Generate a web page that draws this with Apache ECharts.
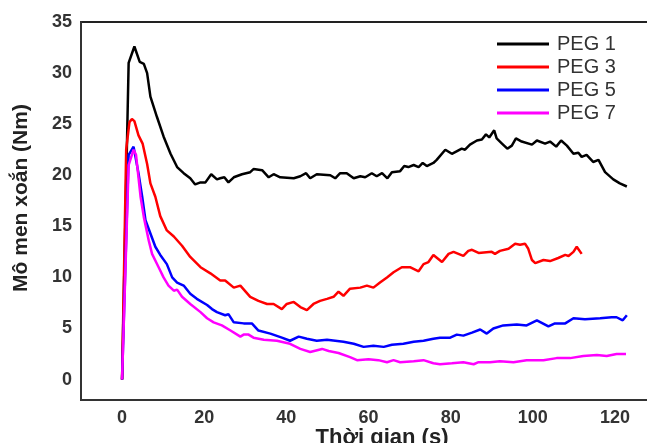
<!DOCTYPE html>
<html>
<head>
<meta charset="utf-8">
<script src="https://cdn.jsdelivr.net/npm/echarts@6/dist/echarts.min.js"></script>
<style>
html,body{margin:0;padding:0;background:#fff;}
#c{width:647px;height:443px;}
</style>
</head>
<body>
<div id="c"></div>
<script>
const seriesNames = ["PEG 1", "PEG 3", "PEG 5", "PEG 7"];
const xTickLabels = [0, 20, 40, 60, 80, 100, 120];
const yTickLabels = [0, 5, 10, 15, 20, 25, 30, 35];

const peg1 = [[0,0],[1.6,31.0],[3.0,32.6],[4.3,31.1],[5.3,30.9],[6.1,30.0],[6.9,27.7],[8.5,25.7],[10.1,23.8],[11.8,22.1],[13.4,20.8],[15.0,20.2],[16.6,19.7],[17.8,19.1],[19.1,19.3],[20.3,19.3],[21.7,20.1],[23.1,19.6],[23.9,19.7],[24.9,19.8],[25.9,19.3],[27.2,19.8],[29.2,20.1],[31.2,20.3],[32.0,20.6],[34.1,20.5],[35.7,19.8],[36.9,20.1],[38.5,19.8],[41.8,19.7],[43.4,19.9],[44.8,20.2],[45.8,19.7],[47.4,20.1],[50.7,20.0],[51.9,19.7],[53.1,20.2],[54.7,20.2],[56.4,19.7],[58.0,19.9],[59.2,19.8],[60.8,20.2],[62.0,19.9],[63.3,20.2],[64.6,19.7],[65.7,20.3],[67.7,20.4],[68.7,20.9],[69.7,20.8],[71.0,21.0],[72.2,20.8],[73.2,21.2],[74.2,20.9],[75.8,21.2],[76.6,21.5],[78.7,22.5],[80.3,22.1],[82.7,22.6],[83.5,22.5],[84.7,23.0],[86.4,23.4],[87.6,23.5],[88.6,24.0],[89.4,23.7],[90.6,24.4],[91.2,23.6],[92.5,23.1],[93.8,22.6],[94.9,22.9],[95.9,23.6],[97.3,23.3],[99.8,23.0],[101.0,23.4],[103.0,23.1],[104.2,23.3],[105.7,22.8],[106.9,23.4],[108.3,22.9],[109.9,22.1],[111.1,22.2],[111.9,21.8],[113.1,22.0],[114.7,21.3],[116.0,21.5],[117.6,20.3],[119.6,19.6],[121.2,19.2],[122.9,18.9]];

const peg3 = [[0,0],[1.0,22.5],[1.8,25.2],[2.4,25.5],[3.0,25.3],[4.0,23.9],[5.0,23.1],[6.1,21.1],[6.9,19.2],[8.1,17.9],[9.3,16.0],[10.9,14.6],[12.6,14.0],[14.6,13.1],[16.6,12.0],[19.1,11.0],[21.5,10.4],[23.9,9.7],[25.1,9.7],[27.2,9.0],[28.8,9.2],[31.2,8.1],[33.2,7.7],[35.3,7.4],[36.9,7.4],[38.9,6.9],[40.1,7.4],[41.8,7.6],[43.4,7.1],[45.0,6.8],[46.6,7.4],[48.2,7.7],[49.9,7.9],[51.5,8.1],[52.7,8.6],[53.9,8.2],[55.5,8.9],[58.0,9.0],[59.6,9.2],[61.2,9.0],[62.8,9.5],[64.5,10.0],[66.1,10.5],[68.1,11.0],[70.1,11.0],[72.2,10.6],[73.4,11.3],[74.6,11.5],[75.8,12.2],[77.0,11.8],[77.9,11.5],[79.5,12.3],[80.7,12.5],[83.1,12.1],[84.3,12.6],[85.2,12.7],[86.8,12.4],[90.0,12.5],[90.8,12.3],[92.0,12.6],[94.1,12.8],[95.7,13.3],[96.9,13.2],[98.1,13.3],[98.9,12.8],[99.8,11.7],[100.6,11.4],[102.6,11.7],[104.2,11.6],[106.2,11.9],[107.9,12.2],[108.7,12.1],[109.9,12.5],[110.7,13.0],[111.9,12.3]];

const peg5 = [[0,0],[1.6,22.0],[2.8,22.8],[4.0,20.2],[4.9,17.9],[5.7,15.6],[6.9,14.3],[8.1,13.0],[9.3,12.2],[10.9,11.3],[12.2,10.0],[13.4,9.5],[15.0,9.2],[16.6,8.4],[18.2,7.9],[20.7,7.3],[21.9,6.9],[23.1,6.6],[25.1,6.3],[25.9,6.4],[27.2,5.6],[29.6,5.5],[31.6,5.5],[33.2,4.8],[36.1,4.5],[38.9,4.1],[40.9,3.8],[43.0,4.2],[45.0,4.0],[47.4,3.8],[49.9,3.9],[51.9,3.8],[53.9,3.7],[56.4,3.5],[58.8,3.2],[61.2,3.3],[63.7,3.2],[65.7,3.4],[68.5,3.5],[71.0,3.7],[73.4,3.8],[75.8,4.0],[77.4,4.1],[79.9,4.1],[81.5,4.4],[83.1,4.3],[85.2,4.6],[87.2,4.9],[88.8,4.5],[90.4,5.0],[92.8,5.3],[96.1,5.4],[98.5,5.3],[101.0,5.8],[103.8,5.2],[105.4,5.5],[107.9,5.5],[109.9,6.0],[112.7,5.9],[116.4,6.0],[119.2,6.1],[120.4,6.1],[121.9,5.8],[122.9,6.3]];

const peg7 = [[0,0],[1.6,21.0],[2.8,22.5],[3.4,22.0],[4.5,17.9],[5.3,15.9],[6.5,13.6],[7.3,12.3],[8.9,11.0],[10.1,10.0],[11.3,9.2],[12.6,8.7],[13.4,8.8],[14.6,8.1],[16.6,7.4],[19.1,6.6],[20.7,6.0],[22.3,5.6],[24.3,5.3],[26.4,4.8],[28.8,4.2],[29.6,4.4],[30.8,4.4],[32.0,4.1],[34.5,3.9],[37.7,3.8],[40.9,3.5],[43.4,3.0],[45.8,2.7],[48.7,3.0],[50.3,2.8],[52.7,2.6],[55.5,2.2],[57.2,1.9],[60.0,2.0],[62.4,1.9],[64.5,1.7],[66.1,1.9],[67.7,1.7],[71.0,1.8],[73.4,1.9],[75.8,1.6],[77.4,1.5],[80.3,1.6],[83.1,1.7],[85.6,1.5],[86.8,1.7],[89.6,1.7],[92.0,1.8],[95.3,1.7],[98.5,1.9],[102.6,1.9],[105.8,2.1],[109.1,2.1],[112.3,2.3],[115.6,2.4],[118.0,2.3],[120.4,2.5],[122.7,2.5]];

const seriesData = [peg1, peg3, peg5, peg7];
const colors = ["#000000", "#ff0000", "#0000ff", "#ff00ff"];

const chart = echarts.init(document.getElementById('c'), null, {renderer: 'canvas'});
const option = {
  animation: false,
  backgroundColor: '#ffffff',
  grid: {
    left: 81, top: 22, height: 378, width: 575,
    outerBoundsMode: 'none', containLabel: false,
    show: true, borderColor: '#222', borderWidth: 2, backgroundColor: 'transparent'
  },
  legend: {
    orient: 'vertical',
    left: 497, top: 34, padding: 0,
    icon: 'rect',
    itemWidth: 52, itemHeight: 3, itemGap: 3,
    data: seriesNames,
    textStyle: {fontFamily: 'Liberation Sans, Arial, sans-serif', fontSize: 20, color: '#333', padding: [0,0,0,3]}
  },
  xAxis: {
    type: 'value', min: -10, max: 130, interval: 10,
    axisLine: {show: true, onZero: false, lineStyle: {color: '#333', width: 2}},
    axisTick: {show: false},
    splitLine: {show: false},
    axisLabel: {
      margin: 9,
      fontFamily: 'Liberation Sans, Arial, sans-serif', fontSize: 18, fontWeight: 'bold', color: '#333',
      formatter: v => xTickLabels.indexOf(v) >= 0 ? String(v) : ''
    }
  },
  yAxis: {
    type: 'value', min: -2, max: 35, interval: 1,
    axisLine: {show: true, onZero: false, lineStyle: {color: '#333', width: 2}},
    axisTick: {show: false},
    splitLine: {show: false},
    axisLabel: {
      margin: 9,
      fontFamily: 'Liberation Sans, Arial, sans-serif', fontSize: 18, fontWeight: 'bold', color: '#333',
      formatter: v => yTickLabels.indexOf(v) >= 0 ? String(v) : ''
    }
  },
  graphic: [
    {type: 'text', x: 382, y: 438,
     style: {text: 'Thời gian (s)', font: 'bold 22px "Liberation Sans", Arial, sans-serif', fill: '#222', align: 'center', verticalAlign: 'middle'}},
    {type: 'text', x: 21, y: 198, rotation: Math.PI/2,
     style: {text: 'Mô men xoắn (Nm)', font: 'bold 21px "Liberation Sans", Arial, sans-serif', fill: '#222', align: 'center', verticalAlign: 'middle'}}
  ],
  series: seriesNames.map((n, i) => ({
    name: n, type: 'line', data: seriesData[i], symbol: 'none', smooth: false,
    lineStyle: {color: colors[i], width: 2.5}, itemStyle: {color: colors[i]}
  }))
};
chart.setOption(option);
</script>
</body>
</html>
